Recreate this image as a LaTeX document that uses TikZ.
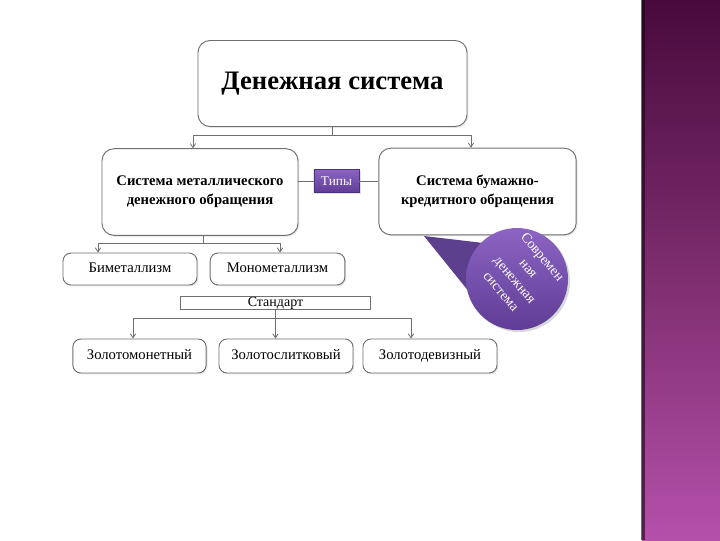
\documentclass[tikz,border=0pt]{standalone}
\usepackage{fontspec}
\setmainfont{Liberation Serif}
\usetikzlibrary{arrows.meta,shadows}

\definecolor{framec}{RGB}{110,110,115}
\definecolor{bubblelt}{RGB}{140,100,195}
\definecolor{bubbledk}{RGB}{95,60,150}
\definecolor{stripetop}{RGB}{72,10,60}
\definecolor{stripemid}{RGB}{125,45,110}
\definecolor{stripebot}{RGB}{180,80,170}

\tikzset{
  box/.style={draw=framec, line width=0.7pt, rounded corners=9pt, fill=white, align=center,
    inner sep=2pt, drop shadow={opacity=0.2, shadow xshift=1pt, shadow yshift=-1pt}},
  smallbox/.style={box, rounded corners=6pt, font=\fontsize{11}{13}\selectfont,
    text height=1.6ex, text depth=0.4ex},
  link/.style={draw=framec, line width=0.6pt},
  arr/.style={link, -{Straight Barb[length=3pt,width=4pt]}},
}

\begin{document}
\begin{tikzpicture}[x=0.75pt, y=-0.75pt]
        % page and the purple stripe on the right
        \useasboundingbox (0,0) rectangle (720,540);
        \fill[white] (0,0) rectangle (720,540);
        \shade[top color=stripetop, bottom color=stripebot, middle color=stripemid] (642,0) rectangle (720,540);
        \fill[black!70!stripetop, opacity=0.6] (641,0) rectangle (645,540);

        % main boxes
        \node[box, minimum width=201.75pt, minimum height=64.5pt, font=\bfseries\fontsize{20}{24}\selectfont]
          (money) at (332.5,83.5) {Денежная система};
        \node[box, minimum width=147pt, minimum height=65pt, font=\bfseries\fontsize{11}{14}\selectfont]
          (metal) at (200,192) {Система металлического\\денежного обращения};
        \node[box, minimum width=148pt, minimum height=65pt, font=\bfseries\fontsize{11}{14}\selectfont]
          (paper) at (477.5,191.5) {Система бумажно-\\кредитного обращения};

        % the small "types" label between them
        \node[draw=bubbledk!80!black, top color=bubblelt, bottom color=bubbledk, text=white,
          minimum width=34pt, minimum height=17pt, inner sep=1pt, font=\fontsize{10}{12}\selectfont,
          drop shadow={opacity=0.25, shadow xshift=1pt, shadow yshift=-1pt}]
          (types) at (336.5,181) {Типы};
        \draw[link] (types.west) -- (types.west -| metal.east);
        \draw[link] (types.east) -- (types.east -| paper.west);

        % kinds of the metal system
        \node[smallbox, minimum width=100.5pt, minimum height=24pt] (bimet) at (130,269) {Биметаллизм};
        \node[smallbox, minimum width=101pt, minimum height=24pt] (monomet) at (277.5,269) {Монометаллизм};

        % standard and its three forms
        \node[draw=framec, line width=0.7pt, fill=white, minimum width=143pt, minimum height=9.5pt, inner sep=0pt,
          font=\fontsize{10.5}{11}\selectfont] (standard) at (275.5,303) {Стандарт};
        \node[smallbox, minimum width=100pt, minimum height=25.5pt] (coin) at (139.5,356) {Золотомонетный};
        \node[smallbox, minimum width=100.5pt, minimum height=25.5pt] (bullion) at (286,356) {Золотослитковый};
        \node[smallbox, minimum width=100.5pt, minimum height=25.5pt] (exchange) at (430,356) {Золотодевизный};

        % connectors from the top box
        \coordinate (topmid) at (332,135);
        \coordinate (topl) at (193,135);
        \coordinate (topr) at (471,135);
        \draw[link] (money.south -| topmid) -- (topmid);
        \draw[link] (topl) -- (topr);
        \draw[arr] (topl) -- (topl |- metal.north);
        \draw[arr] (topr) -- (topr |- paper.north);

        % connectors from the metal system
        \coordinate (metmid) at (203,243);
        \coordinate (metl) at (98,243);
        \coordinate (metr) at (280,243);
        \draw[link] (metal.south -| metmid) -- (metmid);
        \draw[link] (metl) -- (metr);
        \draw[arr] (metl) -- (metl |- bimet.north);
        \draw[arr] (metr) -- (metr |- monomet.north);

        % connectors from the standard
        \coordinate (stdl) at (133,318);
        \coordinate (stdr) at (411,318);
        \draw[link] (stdl) -- (stdr);
        \draw[arr] (standard.south) -- (standard.south |- bullion.north);
        \draw[arr] (stdl) -- (stdl |- coin.north);
        \draw[arr] (stdr) -- (stdr |- exchange.north);

        % speech bubble on the paper system
        \coordinate (tailtip) at (424,236);
        \fill[bubbledk!90!black, opacity=0.95] (tailtip) -- (492,244) -- (474,298) -- cycle;
        \node[circle, minimum size=76.5pt, inner sep=0pt, top color=bubblelt, bottom color=bubbledk,
          drop shadow={opacity=0.3, shadow xshift=1.5pt, shadow yshift=-1.5pt}] (bubble) at (517,279) {};
        \node[text=white, align=center, rotate=-50, font=\fontsize{10.5}{13.5}\selectfont]
          (bubbletext) at (522,274) {Современ\\ная\\денежная\\система};
    \end{tikzpicture}
\end{document}
